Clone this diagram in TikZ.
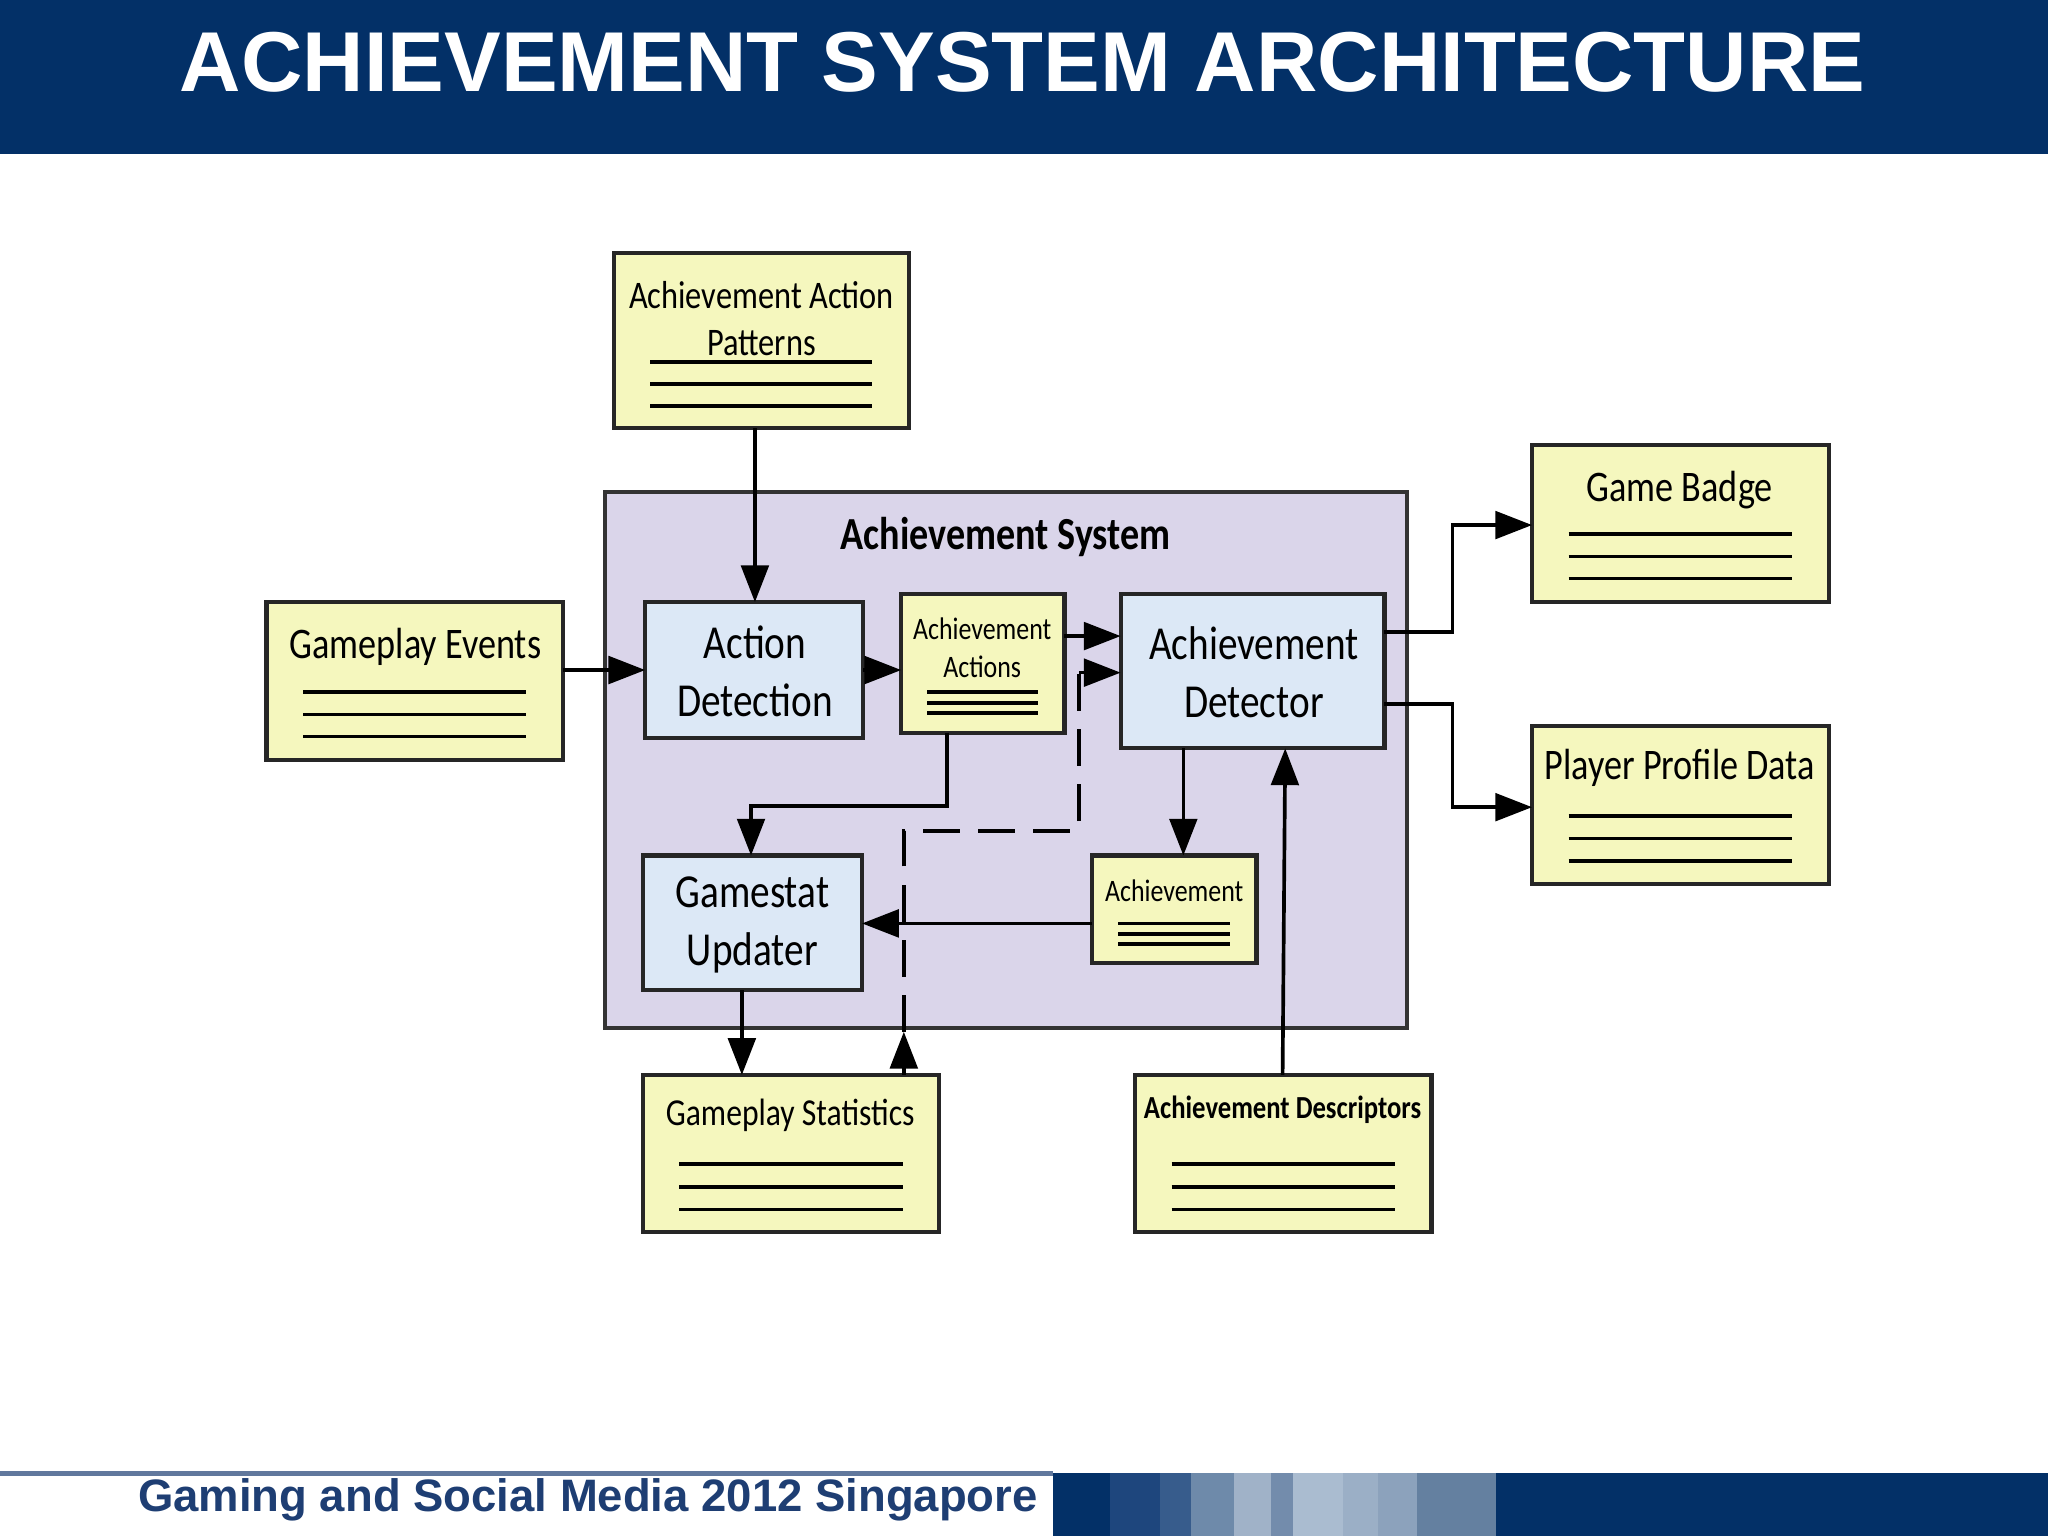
\documentclass[tikz,border=0pt]{standalone}
\usepackage{fontspec}
\usepackage{graphicx}
\setmainfont{Carlito}
\newfontfamily\arialf{Liberation Sans}
\usetikzlibrary{arrows.meta}
\newcommand\cx[1]{\scalebox{0.83}[1]{#1}}
\definecolor{navy}{RGB}{3,48,103}
\definecolor{boxy}{RGB}{245,247,190}
\definecolor{boxb}{RGB}{220,232,246}
\definecolor{lav}{RGB}{218,213,234}
\definecolor{foot}{RGB}{30,62,115}
\tikzset{
 ybox/.style={draw=black!85,line width=0.9pt,fill=boxy},
 bbox/.style={draw=black!85,line width=0.9pt,fill=boxb},
 ln/.style={line width=0.8pt},
 arr/.style={line width=0.8pt,-{Triangle[length=8pt,width=6pt]}},
 lab/.style={font=\fontsize{9.5pt}{11.5pt}\selectfont,align=center},
 blab/.style={font=\fontsize{10.3pt}{12.6pt}\selectfont,align=center},
 slab/.style={font=\fontsize{6.8pt}{8.2pt}\selectfont,align=center},
}
\begin{document}
\begin{tikzpicture}[x=0.01cm,y=-0.01cm]
\useasboundingbox (0,0) rectangle (1568,1176);
% header
\fill[navy] (0,0) rectangle (1568,118);
\node[text=white,font=\arialf\bfseries\fontsize{18.5pt}{22pt}\selectfont] (title) at (783,48) {ACHIEVEMENT SYSTEM ARCHITECTURE};
% footer
\draw[foot!70,line width=1.2pt] (0,1128) -- (806,1128);
\node[anchor=west,text=foot,font=\arialf\bfseries\fontsize{9.9pt}{11pt}\selectfont,inner sep=0pt] (ft) at (105,1148) {Gaming and Social Media 2012 Singapore};
\fill[navy] (806,1128) rectangle (1568,1176);
\fill[color={rgb,255:red,30;green,70;blue,125}] (850,1128) rectangle (888,1176);
\fill[color={rgb,255:red,55;green,92;blue,140}] (888,1128) rectangle (912,1176);
\fill[color={rgb,255:red,110;green,138;blue,170}] (912,1128) rectangle (945,1176);
\fill[color={rgb,255:red,160;green,178;blue,200}] (945,1128) rectangle (973,1176);
\fill[color={rgb,255:red,115;green,140;blue,172}] (973,1128) rectangle (990,1176);
\fill[color={rgb,255:red,170;green,188;blue,208}] (990,1128) rectangle (1028,1176);
\fill[color={rgb,255:red,155;green,175;blue,198}] (1028,1128) rectangle (1055,1176);
\fill[color={rgb,255:red,140;green,162;blue,188}] (1055,1128) rectangle (1085,1176);
\fill[color={rgb,255:red,100;green,128;blue,160}] (1085,1128) rectangle (1145,1176);
% system
\filldraw[fill=lav,draw=black!80,line width=0.9pt] (463,377) rectangle (1077,787);
\node[font=\bfseries\fontsize{10pt}{12pt}\selectfont] (sys) at (770,411) {\cx{Achievement System}};
% yellow boxes
\filldraw[ybox] (470,194) rectangle (696,328);
\node[lab,font=\fontsize{8.5pt}{10.2pt}\selectfont] (aap) at (583,244) {\cx{Achievement Action}\\\cx{Patterns}};
\foreach \y in {277,294,311} \draw[ln] (498,\y) -- (668,\y);
\filldraw[ybox] (204,461) rectangle (431,582);
\node[lab] (ge) at (318,495) {\cx{Gameplay Events}};
\foreach \y in {530,547,564} \draw[ln] (232,\y) -- (403,\y);
\filldraw[ybox] (690,455) rectangle (815,561);
\node[slab] (aa) at (752,496) {\cx{Achievement}\\\cx{Actions}};
\foreach \y in {530,538,546} \draw[ln] (710,\y) -- (795,\y);
\filldraw[ybox] (836,655) rectangle (962,737);
\node[slab] (ach) at (899,682) {\cx{Achievement}};
\foreach \y in {707,715,723} \draw[ln] (856,\y) -- (942,\y);
\filldraw[ybox] (1173,341) rectangle (1400,461);
\node[lab] (gb) at (1286,375) {\cx{Game Badge}};
\foreach \y in {409,426,443} \draw[ln] (1201,\y) -- (1372,\y);
\filldraw[ybox] (1173,556) rectangle (1400,677);
\node[lab] (ppd) at (1286,588) {\cx{Player Profile Data}};
\foreach \y in {625,642,659} \draw[ln] (1201,\y) -- (1372,\y);
\filldraw[ybox] (492,823) rectangle (719,943);
\node[lab,font=\fontsize{8.3pt}{10pt}\selectfont] (gs) at (605,854) {\cx{Gameplay Statistics}};
\foreach \y in {891,909,926} \draw[ln] (520,\y) -- (691,\y);
\filldraw[ybox] (869,823) rectangle (1096,943);
\node[font=\bfseries\fontsize{7pt}{9pt}\selectfont] (ades) at (982,850) {\cx{Achievement Descriptors}};
\foreach \y in {891,909,926} \draw[ln] (897,\y) -- (1068,\y);
% blue boxes
\filldraw[bbox] (494,461) rectangle (661,565);
\node[blab] (ad) at (578,514) {\cx{Action}\\\cx{Detection}};
\filldraw[bbox] (858,455) rectangle (1060,573);
\node[blab] (adet) at (960,515) {\cx{Achievement}\\\cx{Detector}};
\filldraw[bbox] (492,655) rectangle (660,758);
\node[blab] (gu) at (576,708) {\cx{Gamestat}\\\cx{Updater}};
% connectors
\coordinate (aapB) at (578,328); \coordinate (adT) at (578,461);
\draw[arr] (aapB) -- (adT);
\coordinate (geR) at (431,513); \coordinate (adL) at (494,513);
\draw[arr] (geR) -- (adL);
\coordinate (adR) at (661,513); \coordinate (aaL) at (690,513);
\draw[arr] (adR) -- (aaL);
\coordinate (aaR) at (815,487); \coordinate (adetL1) at (858,487);
\draw[arr] (aaR) -- (adetL1);
\coordinate (gsT) at (692,823); \coordinate (dm) at (692,790); \coordinate (adetL2) at (858,515);
\draw[arr] (gsT) -- (dm);
\draw[line width=0.8pt,dashed,dash pattern=on 8pt off 4pt] (dm) -- (692,636) -- (826,636) -- (826,515);
\draw[arr] (826,515) -- (adetL2);
\coordinate (aaB) at (725,561); \coordinate (guT) at (575,655);
\draw[arr] (aaB) -- (725,617) -- (575,617) -- (guT);
\coordinate (adetB) at (906,573); \coordinate (achT) at (906,655);
\draw[arr] (adetB) -- (achT);
\coordinate (achL) at (836,707); \coordinate (guR) at (660,707);
\draw[arr] (achL) -- (guR);
\coordinate (guB) at (568,758); \coordinate (gsT2) at (568,823);
\draw[arr] (guB) -- (gsT2);
\coordinate (adesT) at (982,823); \coordinate (adetB2) at (984,573);
\draw[arr] (adesT) -- (adetB2);
\coordinate (adetR1) at (1060,484); \coordinate (gbL) at (1173,402);
\draw[arr] (adetR1) -- (1112,484) -- (1112,402) -- (gbL);
\coordinate (adetR2) at (1060,539); \coordinate (ppdL) at (1173,618);
\draw[arr] (adetR2) -- (1112,539) -- (1112,618) -- (ppdL);
\end{tikzpicture}
\end{document}
